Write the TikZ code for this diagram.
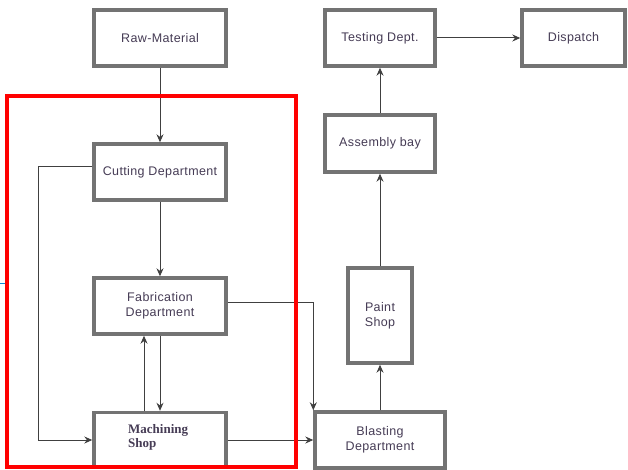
\documentclass[tikz,border=0pt]{standalone}
\usepackage{fontspec}
\setmainfont{Liberation Sans}[LetterSpace=3]
\newfontfamily\serifm{Liberation Serif}
\usetikzlibrary{arrows.meta}
\definecolor{boxgray}{RGB}{115,115,115}
\definecolor{txt}{RGB}{70,60,85}
\begin{document}
\begin{tikzpicture}[x=1pt,y=-1pt,
  box/.style={draw=boxgray,line width=3.4pt,fill=white,inner sep=0pt,font=\fontsize{12.5}{15}\selectfont,text=txt,align=center},
  conn/.style={draw=black!75,line width=1pt,-{Stealth[length=8pt,width=7pt]}},
  plain/.style={draw=black!75,line width=1pt}]
\useasboundingbox (0,0) rectangle (628,470);
\draw[cyan!70!blue,line width=1pt] (0,283) -- (7,283);
% boxes
\node[box,minimum width=132pt,minimum height=56pt] (raw) at (160,38) {Raw-Material};
\node[box,minimum width=132pt,minimum height=56pt] (cut) at (160,172) {Cutting Department};
\node[box,minimum width=132pt,minimum height=56pt] (fab) at (160,306) {Fabrication\\Department};
\node[box,minimum width=132pt,minimum height=55pt] (mach) at (160,440) {};
\node[font=\serifm\fontsize{13}{14}\selectfont\bfseries,text=txt,align=left,anchor=west,inner sep=0pt] (machtxt) at (128,437) {Machining\\Shop};
\node[box,minimum width=130pt,minimum height=56pt] (blast) at (380,440) {Blasting\\Department};
\node[box,minimum width=64pt,minimum height=95pt] (paint) at (380,315.5) {Paint\\Shop};
\node[box,minimum width=110pt,minimum height=57pt] (asm) at (380,143.5) {Assembly bay};
\node[box,minimum width=110pt,minimum height=56pt] (test) at (380,38) {Testing Dept.};
\node[box,minimum width=103pt,minimum height=56pt] (disp) at (573.5,38) {Dispatch};
% connectors
\draw[conn] (raw.south) -- (cut.north);
\draw[conn] (cut.south) -- (fab.north);
\draw[conn] (fab.south) -- (mach.north);
\draw[conn] ([xshift=-16pt]mach.north) -- ([xshift=-16pt]fab.south);
\coordinate (c1) at (38,440);
\draw[conn] ([yshift=5pt]cut.west) -| (c1) -- (mach.west);
\draw[conn] ([yshift=4pt]fab.east) -| (blast.north west);
\draw[conn] (mach.east) -- (blast.west);
\draw[conn] (blast.north) -- (paint.south);
\draw[conn] (paint.north) -- (asm.south);
\draw[conn] (asm.north) -- (test.south);
\draw[conn] (test.east) -- (disp.west);
% red frame
\draw[red,line width=3.5pt] (7,96) rectangle (296,467);
\end{tikzpicture}
\end{document}
